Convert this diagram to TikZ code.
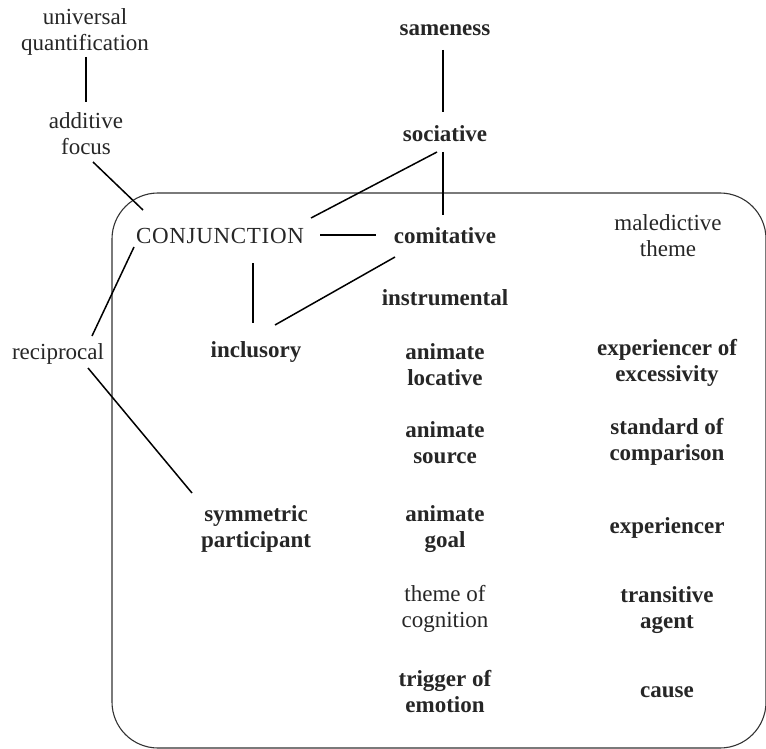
\documentclass[tikz,border=0pt]{standalone}
\usepackage{fontspec}
\setmainfont{Liberation Serif}
\usetikzlibrary{calc}
\begin{document}
\begin{tikzpicture}[x=0.5pt,y=-0.5pt,
  every node/.style={font=\fontsize{11.5}{13}\selectfont, align=center, inner sep=2pt, text=black!85},
  lit/.style={},
  sb/.style={font=\fontsize{11.5}{13}\selectfont\bfseries},
  link/.style={line width=0.75pt, black},
  frame/.style={line width=0.55pt, black!80, rounded corners=23pt}]
\useasboundingbox (0,0) rectangle (766,749);
% enclosing domain
\draw[frame] (112,193) rectangle (766,748);
% outer column
\node[lit] (univ) at (85,32) {universal\\quantification};
\node[lit] (addf) at (86,134) {additive\\focus};
\node[lit] (recip) at (58,354) {reciprocal};
% left column
\node[lit, font=\fontsize{11.5}{13}\selectfont\addfontfeatures{LetterSpace=3}] (conj) at (220,236) {CONJUNCTION};
\node[sb] (incl) at (256,352) {inclusory};
\node[sb] (symm) at (256,529) {symmetric\\participant};
% middle column
\node[sb] (same) at (445,30) {sameness};
\node[sb] (soc) at (445,134) {sociative};
\node[sb] (comit) at (445,236) {comitative};
\node[sb] (instr) at (445,298) {instrumental};
\node[sb] (aloc) at (445,365) {animate\\locative};
\node[sb] (asrc) at (445,443) {animate\\source};
\node[sb] (agoal) at (445,529) {animate\\goal};
\node[lit] (tcog) at (445,609) {theme of\\cognition};
\node[sb] (temo) at (445,692) {trigger of\\emotion};
% right column
\node[lit] (maled) at (668,236) {maledictive\\theme};
\node[sb] (exexc) at (667,363) {experiencer of\\excessivity};
\node[sb] (stdc) at (667,442) {standard of\\comparison};
\node[sb] (exper) at (667,528) {experiencer};
\node[sb] (tagent) at (667,610) {transitive\\agent};
\node[sb] (cause) at (667,692) {cause};
% connections
\draw[link] ($(univ)+(1,25)$) -- ($(addf)+(0,-32)$);
\draw[link] ($(addf)+(7,28)$) -- ($(conj)+(-77,-26)$);
\draw[link] ($(same)+(-2,20)$) -- ($(soc)+(-2,-22)$);
\draw[link] ($(soc)+(-8,18)$) -- ($(conj)+(91,-18)$);
\draw[link] ($(soc)+(-2,18)$) -- ($(comit)+(-2,-21)$);
\draw[link] ($(conj)+(100,-1)$) -- ($(comit)+(-69,-1)$);
\draw[link] ($(conj)+(33,27)$) -- ($(incl)+(-3,-29)$);
\draw[link] ($(comit)+(-50,21)$) -- ($(incl)+(19,-27)$);
\draw[link] ($(conj)+(-86,11)$) -- ($(recip)+(34,-18)$);
\draw[link] ($(recip)+(30,14)$) -- ($(symm)+(-64,-36)$);
\end{tikzpicture}
\end{document}
